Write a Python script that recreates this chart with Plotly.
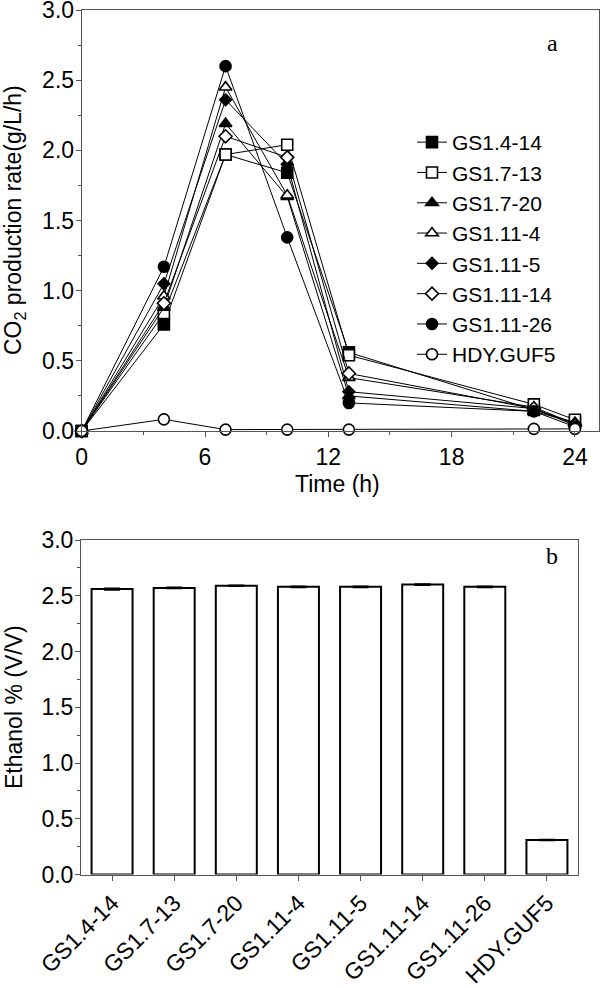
import plotly.graph_objects as go

# ---- Data ----
times = [0, 4, 7, 10, 13, 22, 24]
strains = ["GS1.4-14", "GS1.7-13", "GS1.7-20", "GS1.11-4",
           "GS1.11-5", "GS1.11-14", "GS1.11-26", "HDY.GUF5"]
co2_gs1_4_14 = [0, 0.76, 1.97, 1.84, 0.56, 0.15, 0.06]
co2_gs1_7_13 = [0, 0.84, 1.97, 2.04, 0.54, 0.19, 0.08]
co2_gs1_7_20 = [0, 0.88, 2.19, 1.67, 0.25, 0.14, 0.06]
co2_gs1_11_4 = [0, 0.96, 2.45, 1.68, 0.38, 0.17, 0.05]
co2_gs1_11_5 = [0, 1.05, 2.36, 1.90, 0.28, 0.16, 0.05]
co2_gs1_11_14 = [0, 0.91, 2.10, 1.95, 0.41, 0.16, 0.04]
co2_gs1_11_26 = [0, 1.17, 2.60, 1.38, 0.20, 0.14, 0.03]
co2_hdy_guf5 = [0, 0.083, 0.01, 0.01, 0.01, 0.015, 0.015]

ethanol = [2.56, 2.57, 2.59, 2.58, 2.58, 2.60, 2.58, 0.31]
ethanol_err = [0.008, 0.006, 0.005, 0.005, 0.005, 0.005, 0.005, 0.005]

co2_series = [co2_gs1_4_14, co2_gs1_7_13, co2_gs1_7_20, co2_gs1_11_4,
              co2_gs1_11_5, co2_gs1_11_14, co2_gs1_11_26, co2_hdy_guf5]
symbols = ["square", "square", "triangle-up", "triangle-up",
           "diamond", "diamond", "circle", "circle"]
filled = [True, False, True, False, True, False, True, False]
sizes = [11, 11, 11, 11, 9, 10, 11, 11]

W, H = 600, 988
FONT = "Liberation Sans, Arial, sans-serif"
SERIF = "Liberation Serif, Times New Roman, serif"
AX = "#555555"
FS = 23

def px_x(x):
    return x / W

def px_y(y):
    return 1 - y / H

fig = go.Figure()

for name, vals, sym, fl, sz in zip(strains, co2_series, symbols, filled, sizes):
    fig.add_trace(go.Scatter(
        x=times, y=vals, name=name, mode="lines+markers",
        line=dict(color="black", width=1),
        marker=dict(symbol=sym, size=sz,
                    color="black" if fl else "white",
                    line=dict(color="black", width=1.6)),
        cliponaxis=False, xaxis="x", yaxis="y",
    ))

fig.add_trace(go.Bar(
    x=strains, y=ethanol, width=0.66, showlegend=False,
    marker=dict(color="white", line=dict(color="black", width=2)),
    error_y=dict(type="data", array=ethanol_err, color="black",
                 thickness=1.5, width=8),
    xaxis="x2", yaxis="y2",
))

axis_common = dict(showline=True, linecolor=AX, linewidth=1, mirror=True,
                   ticks="outside", tickcolor=AX, ticklen=5, showgrid=False,
                   zeroline=False, automargin=False, ticklabeloverflow="allow",
                   tickfont=dict(family=FONT, size=FS, color="black"))

fig.update_layout(
    width=W, height=H,
    margin=dict(l=0, r=0, t=0, b=0, autoexpand=False),
    paper_bgcolor="white", plot_bgcolor="white",
    font=dict(family=FONT, color="black"),
    xaxis=dict(domain=[px_x(81.7), px_x(599)], range=[0, 25.17],
               tickvals=[0, 6, 12, 18, 24], anchor="y",
               minor=dict(dtick=3, tick0=0, ticks="outside", ticklen=3, tickcolor=AX),
               **axis_common),
    yaxis=dict(domain=[px_y(431), px_y(10)], range=[0, 3], dtick=0.5,
               tickformat=".1f", anchor="x", ticklabelstandoff=-3,
               minor=dict(dtick=0.25, tick0=0, ticks="outside", ticklen=3, tickcolor=AX),
               **axis_common),
    xaxis2=dict(domain=[px_x(81), px_x(578)], range=[-0.5, 7.5],
                tickangle=-45, anchor="y2", type="category",
                **axis_common),
    yaxis2=dict(domain=[px_y(874.5), px_y(540)], range=[0, 3], dtick=0.5,
                tickformat=".1f", anchor="x2", ticklabelstandoff=-3,
                minor=dict(dtick=0.25, tick0=0, ticks="outside", ticklen=3, tickcolor=AX),
                **axis_common),
    legend=dict(x=px_x(412), y=px_y(122), xanchor="left", yanchor="top",
                bgcolor="rgba(0,0,0,0)", borderwidth=0, tracegroupgap=0,
                font=dict(family=FONT, size=21, color="black")),
    annotations=[
        dict(text="a", x=px_x(552), y=px_y(43), xref="paper", yref="paper",
             xanchor="center", yanchor="middle",
             showarrow=False, font=dict(family=SERIF, size=24)),
        dict(text="b", x=px_x(552), y=px_y(556), xref="paper", yref="paper",
             xanchor="center", yanchor="middle",
             showarrow=False, font=dict(family=SERIF, size=24)),
        dict(text="Time (h)", x=px_x(337), y=px_y(484), xref="paper", yref="paper",
             xanchor="center", yanchor="middle",
             showarrow=False, font=dict(family=FONT, size=FS)),
        dict(text="CO<sub>2</sub> production rate(g/L/h)", x=px_x(14), y=px_y(220),
             xref="paper", yref="paper", textangle=-90, showarrow=False,
             xanchor="center", yanchor="middle",
             font=dict(family=FONT, size=FS)),
        dict(text="Ethanol % (V/V)", x=px_x(14), y=px_y(707),
             xref="paper", yref="paper", textangle=-90, showarrow=False,
             xanchor="center", yanchor="middle",
             font=dict(family=FONT, size=FS)),
    ],
)

fig.write_html("out.html", config={"displayModeBar": False},
               post_script="document.body.style.margin='0';")
